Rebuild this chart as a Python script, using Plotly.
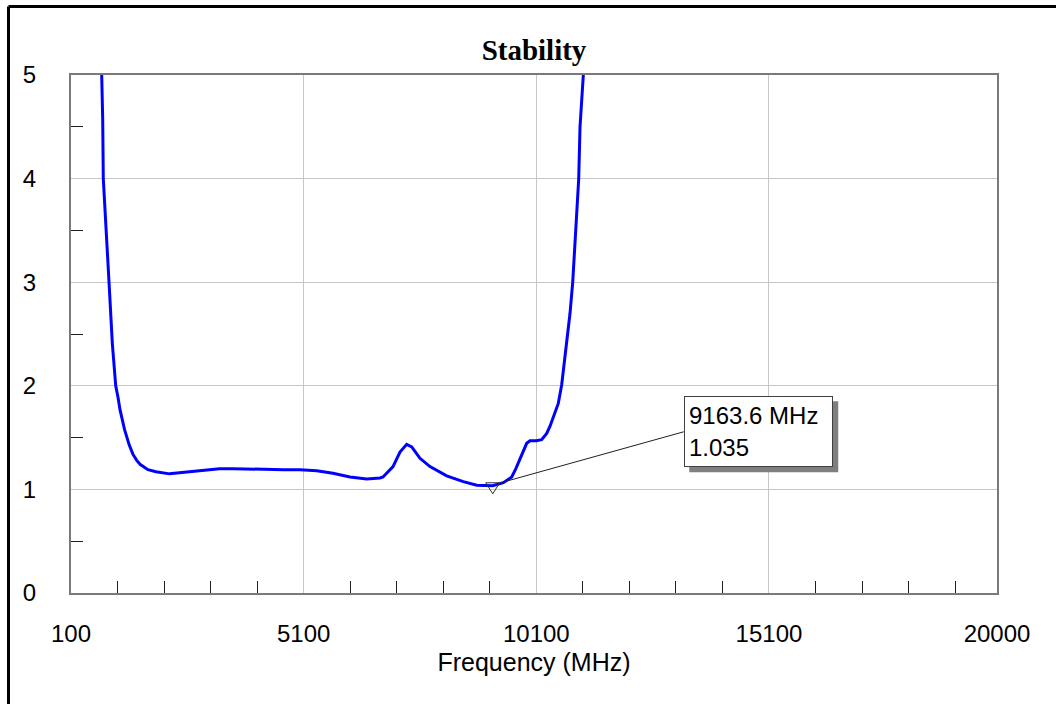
import plotly.graph_objects as go

# ---- data ----
freq_mhz = [760, 781, 794, 846, 917, 988, 1061, 1110, 1153, 1250, 1350, 1430, 1512, 1590,
            1755, 1925, 2217, 2646, 3290, 3588, 4306, 4662, 5021, 5380, 5730, 6096, 6455,
            6740, 6805, 6955, 7020, 7170, 7314, 7422, 7600, 7815, 8174, 8531, 8819, 9163.6,
            9390, 9534, 9571, 9660, 9749, 9820, 9893, 9964, 10100, 10215, 10323, 10394, 10465,
            10572, 10645, 10753, 10824, 10882, 10931, 10981, 11011, 11039, 11075, 11110]
stability = [5.0, 4.58, 4.0, 3.52, 3.0, 2.41, 2.0, 1.89, 1.77, 1.58, 1.43, 1.34, 1.28, 1.24,
             1.19, 1.17, 1.15, 1.17, 1.20, 1.20, 1.19, 1.19, 1.19, 1.18, 1.155, 1.12, 1.10,
             1.11, 1.12, 1.19, 1.22, 1.36, 1.435, 1.41, 1.30, 1.22, 1.13, 1.075, 1.04, 1.035,
             1.065, 1.107, 1.12, 1.2, 1.30, 1.38, 1.445, 1.47, 1.47, 1.48, 1.54, 1.61, 1.70,
             1.83, 2.01, 2.41, 2.70, 3.0, 3.375, 3.70, 4.0, 4.50, 4.82, 5.0]

x_tickvals = [100, 5100, 10100, 15100, 20000]
x_ticktext = ["100", "5100", "10100", "15100", "20000"]
x_minor = [1100, 2100, 3100, 4100, 6100, 7100, 8100, 9100, 11100, 12100, 13100, 14100,
           16100, 17100, 18100, 19100]
y_tickvals = [0, 1, 2, 3, 4, 5]
y_minor = [0.5, 1.5, 2.5, 3.5, 4.5]

marker_freq = 9163.6
marker_val = 1.035
marker_text = "9163.6 MHz<br>1.035"

# ---- layout geometry ----
W, H = 1056, 704
ML, MR, MT, MB = 71, 59, 75, 111
PW, PH = W - ML - MR, H - MT - MB

def px_to_paper_x(px):
    return (px - ML) / PW

def px_to_paper_y(py):
    return (H - MB - py) / PH

fig = go.Figure()
fig.add_trace(go.Scatter(x=freq_mhz, y=stability, mode="lines",
                         line=dict(color="#0000ff", width=3), showlegend=False,
                         hoverinfo="skip"))

axis_font = dict(family="Liberation Sans, Arial, sans-serif", size=24, color="#000000")

fig.update_layout(
    width=W, height=H,
    margin=dict(l=ML, r=MR, t=MT, b=MB),
    paper_bgcolor="white", plot_bgcolor="white",
    title=dict(text="<b>Stability</b>", x=0.5, xref="paper", xanchor="center",
               y=1 - 50 / H, yref="container", yanchor="middle",
               font=dict(family="Liberation Serif, Times New Roman, serif", size=29,
                         color="#000000")),
    xaxis=dict(range=[100, 20000], tickmode="array", tickvals=x_tickvals,
               ticktext=x_ticktext, ticks="", showgrid=True, gridcolor="#c6c6c6",
               gridwidth=1, zeroline=False, showline=True, linecolor="#7a7a7a",
               linewidth=2, mirror=True, tickfont=axis_font, ticklabelstandoff=18,
               title=dict(text="Frequency (MHz)", font=dict(family="Liberation Sans, Arial, sans-serif",
                                                           size=25, color="#000000"),
                          standoff=8),
               minor=dict(tickmode="array", tickvals=x_minor, ticks="inside", ticklen=12,
                          tickcolor="#202020", tickwidth=1, showgrid=False)),
    yaxis=dict(range=[0, 5], tickmode="array", tickvals=y_tickvals, ticks="",
               showgrid=True, gridcolor="#c6c6c6", gridwidth=1, zeroline=False,
               showline=True, linecolor="#7a7a7a", linewidth=2, mirror=True,
               tickfont=axis_font, ticklabelstandoff=28,
               minor=dict(tickmode="array", tickvals=y_minor, ticks="inside", ticklen=12,
                          tickcolor="#202020", tickwidth=1, showgrid=False)),
)

# outer frame (top and left edges of the window)
left_x = px_to_paper_x(8.5)
top_y = px_to_paper_y(6.5)
fig.add_shape(type="line", xref="paper", yref="paper", x0=left_x, x1=left_x,
              y0=px_to_paper_y(H + 5), y1=top_y, line=dict(color="#000000", width=3))
fig.add_shape(type="line", xref="paper", yref="paper", x0=left_x, x1=px_to_paper_x(W + 5),
              y0=top_y, y1=top_y, line=dict(color="#000000", width=3))

# marker triangle and leader line, anchored at the data point
fig.add_shape(type="path", xref="x", yref="y", xsizemode="pixel", ysizemode="pixel",
              xanchor=marker_freq, yanchor=marker_val,
              path="M -7 3 L 7 3 L 0 -8 Z", line=dict(color="#303030", width=1),
              fillcolor="rgba(0,0,0,0)")
fig.add_shape(type="line", xref="x", yref="y", xsizemode="pixel", ysizemode="pixel",
              xanchor=marker_freq, yanchor=marker_val, x0=8, y0=3, x1=191, y1=54,
              line=dict(color="#202020", width=1))

# drop shadow of the readout box (box is 149 x 71 px, centred 266 px right / 54 px up)
fig.add_shape(type="rect", xref="x", yref="y", xsizemode="pixel", ysizemode="pixel",
              xanchor=marker_freq, yanchor=marker_val,
              x0=266 - 74.5 + 5, x1=266 + 74.5 + 5, y0=54 - 35.5 - 5, y1=54 + 35.5 - 5,
              line=dict(width=0), fillcolor="#7f7f7f")

fig.add_annotation(text=marker_text, x=marker_freq, y=marker_val, xref="x", yref="y",
                   showarrow=True, arrowcolor="rgba(0,0,0,0)", ax=266, ay=-54,
                   axref="pixel", ayref="pixel", width=139, height=61, borderpad=4,
                   borderwidth=1, align="left", valign="middle",
                   bgcolor="#ffffff", bordercolor="#404040",
                   font=dict(family="Liberation Sans, Arial, sans-serif", size=24,
                             color="#000000"))

fig.write_html("out.html")
